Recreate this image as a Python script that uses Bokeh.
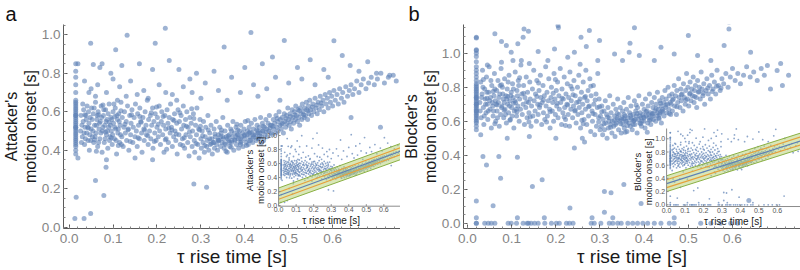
from bokeh.plotting import figure
from bokeh.layouts import row
from bokeh.models import FixedTicker, Range1d, PrintfTickFormatter, Title
from bokeh.embed import file_html
from bokeh.resources import INLINE
import math

FONT = "Liberation Sans"
BLUE = "#5E81B5"
ORANGE = "#E6A03A"
GREEN_LINE = "#8AB043"
GREEN_FILL = "#B9D47E"

# ---------------- data: panel a (Attacker) ----------------
a_col_x = 0.015
a_col_y = [0.38, 0.40, 0.42, 0.43, 0.44, 0.45, 0.46, 0.47, 0.48, 0.49, 0.50, 0.51, 0.52, 0.52,
           0.53, 0.54, 0.55, 0.56, 0.57, 0.58, 0.58, 0.59, 0.60, 0.61, 0.62, 0.63, 0.64, 0.65,
           0.66, 0.70, 0.74, 0.78, 0.81, 0.85]

a_left = [(0.030,0.47),(0.032,0.55),(0.033,0.61),(0.035,0.43),(0.036,0.52),(0.038,0.58),(0.040,0.49),
(0.041,0.63),(0.043,0.45),(0.045,0.54),(0.046,0.40),(0.048,0.57),(0.050,0.51),(0.051,0.62),(0.053,0.47),
(0.055,0.59),(0.056,0.44),(0.058,0.53),(0.060,0.65),(0.061,0.49),(0.063,0.56),(0.065,0.42),(0.066,0.60),
(0.068,0.51),(0.070,0.46),(0.071,0.55),(0.073,0.63),(0.075,0.39),(0.076,0.50),(0.078,0.58),(0.080,0.44),
(0.081,0.53),(0.083,0.61),(0.085,0.48),(0.086,0.56),(0.088,0.41),(0.090,0.52),(0.091,0.64),(0.093,0.47),
(0.095,0.57),(0.096,0.50),(0.098,0.43),(0.100,0.60),(0.101,0.54),(0.103,0.46),(0.105,0.62),(0.106,0.51),
(0.108,0.38),(0.110,0.56),(0.111,0.49),(0.113,0.59),(0.115,0.44),(0.116,0.53),(0.118,0.65),(0.120,0.47),
(0.121,0.57),(0.123,0.42),(0.125,0.52),(0.126,0.60),(0.128,0.49),(0.130,0.55),(0.131,0.45),(0.133,0.63),
(0.135,0.51),(0.136,0.40),(0.138,0.58),(0.140,0.48),(0.141,0.54),(0.143,0.61),(0.145,0.44),(0.146,0.52),
(0.148,0.57),(0.150,0.47),(0.151,0.64),(0.153,0.50),(0.155,0.42),(0.156,0.59),(0.158,0.53),(0.160,0.46),
(0.161,0.62),(0.163,0.55),(0.165,0.49),(0.166,0.39),(0.168,0.57),(0.170,0.51),(0.171,0.45),(0.173,0.60),
(0.175,0.53),(0.176,0.48),(0.178,0.66),(0.180,0.43),(0.181,0.56),(0.183,0.50),(0.185,0.58),(0.186,0.46),
(0.188,0.53),(0.190,0.62),(0.191,0.41),(0.193,0.55),(0.195,0.49),(0.196,0.59),(0.198,0.45),(0.200,0.52),
(0.201,0.57),(0.203,0.47),(0.205,0.63),(0.206,0.50),(0.208,0.43),(0.210,0.55),(0.211,0.60),(0.213,0.48),
(0.215,0.53),(0.216,0.39),(0.218,0.58),(0.220,0.51),(0.221,0.46),(0.223,0.61),(0.225,0.54),(0.226,0.44),
(0.228,0.57),(0.230,0.49),(0.231,0.64),(0.233,0.52),(0.235,0.42),(0.236,0.56),(0.238,0.47),(0.240,0.59),
(0.241,0.50),(0.243,0.45),(0.245,0.54),(0.246,0.38),(0.248,0.61),(0.250,0.48),(0.251,0.55),(0.253,0.43),
(0.255,0.58),(0.256,0.51),(0.258,0.46),(0.260,0.63),(0.261,0.53),(0.263,0.41),(0.265,0.56),(0.266,0.48),
(0.268,0.60),(0.270,0.44),(0.271,0.52),(0.273,0.37),(0.275,0.57),(0.276,0.47),(0.278,0.54),(0.280,0.42),
(0.281,0.50),(0.283,0.59),(0.285,0.45),(0.286,0.39),(0.288,0.53),(0.290,0.48),(0.291,0.62),(0.293,0.43),
(0.295,0.51),(0.296,0.36),(0.298,0.56),(0.300,0.46),
(0.026,0.50),(0.027,0.58),(0.028,0.44),(0.029,0.53),(0.031,0.64),(0.034,0.49),(0.037,0.46),(0.039,0.56),
(0.042,0.52),(0.044,0.60),(0.047,0.48),(0.049,0.45),(0.052,0.56),(0.054,0.50),(0.057,0.62),(0.059,0.47),
(0.062,0.53),(0.064,0.58),(0.067,0.44),(0.069,0.54),(0.072,0.49),(0.074,0.57),(0.077,0.52),(0.079,0.61),
(0.082,0.46),(0.084,0.55),(0.087,0.50),(0.089,0.59),(0.092,0.45),(0.094,0.53),(0.097,0.56),(0.099,0.48),
(0.102,0.64),(0.104,0.52),(0.107,0.45),(0.109,0.58),(0.112,0.51),(0.114,0.55),(0.117,0.48),(0.119,0.43)]

a_fill = [(0.044,0.515),(0.058,0.455),(0.067,0.585),(0.083,0.495),(0.091,0.545),(0.104,0.575),(0.112,0.425),
(0.127,0.535),(0.134,0.505),(0.142,0.585),(0.157,0.465),(0.164,0.545),(0.172,0.505),(0.187,0.595),(0.194,0.445),
(0.203,0.535),(0.214,0.575),(0.219,0.455),(0.227,0.515),(0.239,0.555),(0.244,0.485),(0.252,0.595),(0.259,0.425),
(0.267,0.525),(0.274,0.495),(0.284,0.565),(0.289,0.435),(0.297,0.505),(0.304,0.475),(0.309,0.425),(0.317,0.505),
(0.324,0.435),(0.332,0.485),(0.339,0.455),(0.347,0.505),(0.354,0.435),(0.362,0.475),(0.369,0.415),(0.377,0.455),
(0.384,0.505),(0.392,0.445),(0.399,0.475),(0.404,0.425),(0.412,0.495),(0.419,0.465),(0.427,0.505),(0.434,0.475),
(0.442,0.525),(0.449,0.495),(0.457,0.515),(0.036,0.585),(0.062,0.395),(0.077,0.635),(0.096,0.465),(0.118,0.605),
(0.139,0.445),(0.161,0.575),(0.179,0.475),(0.199,0.625),(0.222,0.405),(0.234,0.505),(0.262,0.465),(0.279,0.615),
(0.299,0.525),(0.357,0.395),(0.382,0.535),(0.407,0.555),(0.437,0.435),(0.464,0.525),(0.474,0.565),(0.484,0.535),
(0.494,0.565),(0.504,0.575),(0.514,0.585),(0.524,0.605),(0.534,0.585),(0.544,0.605),(0.554,0.625),(0.564,0.635),
(0.574,0.645)]

a_cluster = [(0.301,0.41),(0.303,0.50),(0.305,0.44),(0.306,0.55),(0.308,0.39),(0.310,0.47),(0.311,0.52),
(0.313,0.42),(0.315,0.45),(0.316,0.58),(0.318,0.40),(0.320,0.49),(0.321,0.43),(0.323,0.53),(0.325,0.46),
(0.326,0.38),(0.328,0.44),(0.330,0.51),(0.331,0.41),(0.333,0.47),(0.335,0.55),(0.336,0.43),(0.338,0.40),
(0.340,0.48),(0.341,0.45),(0.343,0.52),(0.345,0.42),(0.346,0.49),(0.348,0.44),(0.350,0.57),(0.351,0.46),
(0.353,0.41),(0.355,0.50),(0.356,0.43),(0.358,0.47),(0.360,0.39),(0.361,0.53),(0.363,0.45),(0.365,0.48),
(0.366,0.42),(0.368,0.51),(0.370,0.44),(0.371,0.47),(0.373,0.55),(0.375,0.40),(0.376,0.49),(0.378,0.45),
(0.380,0.52),(0.381,0.43),(0.383,0.48),(0.385,0.46),(0.386,0.41),(0.388,0.50),(0.390,0.44),(0.391,0.53),
(0.393,0.47),(0.395,0.49),(0.396,0.42),(0.398,0.51),(0.400,0.46),(0.401,0.55),(0.403,0.44),(0.405,0.48),
(0.406,0.50),(0.408,0.43),(0.410,0.52),(0.411,0.47),(0.413,0.45),(0.415,0.54),(0.416,0.49),(0.418,0.44),
(0.420,0.51),(0.421,0.47),(0.423,0.56),(0.425,0.48),(0.426,0.45),(0.428,0.53),(0.430,0.50),(0.431,0.46),
(0.433,0.52),(0.435,0.49),(0.436,0.57),(0.438,0.47),(0.440,0.54),(0.441,0.50),(0.443,0.45),(0.445,0.52),
(0.446,0.48),(0.448,0.56),(0.450,0.51),(0.451,0.47),(0.453,0.54),(0.455,0.50),(0.456,0.58),(0.458,0.53),
(0.460,0.49),
(0.320,0.46),(0.340,0.45),(0.350,0.47),(0.360,0.46),(0.370,0.45),(0.380,0.47),(0.390,0.46),(0.400,0.48),
(0.410,0.49),(0.420,0.48),(0.430,0.49),(0.440,0.50),(0.330,0.44),(0.370,0.50),(0.390,0.43),(0.410,0.45),
(0.430,0.46),(0.345,0.47),(0.365,0.44),(0.385,0.48)]

a_rise = [(0.461,0.53),(0.463,0.48),(0.465,0.56),(0.466,0.51),(0.468,0.54),(0.470,0.49),(0.471,0.58),
(0.473,0.52),(0.475,0.55),(0.476,0.50),(0.478,0.60),(0.480,0.53),(0.481,0.56),(0.483,0.51),(0.485,0.57),
(0.486,0.54),(0.488,0.49),(0.490,0.59),(0.491,0.55),(0.493,0.52),(0.495,0.58),(0.496,0.54),(0.498,0.62),
(0.500,0.56),(0.501,0.53),(0.503,0.59),(0.505,0.55),(0.506,0.51),(0.508,0.61),(0.510,0.57),(0.511,0.54),
(0.513,0.60),(0.515,0.56),(0.516,0.63),(0.518,0.58),(0.520,0.55),(0.521,0.61),(0.523,0.57),(0.525,0.53),
(0.526,0.62),(0.528,0.59),(0.530,0.56),(0.531,0.64),(0.533,0.60),(0.535,0.57),(0.536,0.62),(0.538,0.58),
(0.540,0.65),(0.541,0.61),(0.543,0.56),(0.545,0.63),(0.546,0.59),(0.548,0.66),(0.550,0.61),(0.552,0.58),
(0.555,0.64),(0.557,0.60),(0.560,0.67),(0.562,0.62),(0.565,0.59),(0.567,0.65),(0.570,0.61),(0.572,0.68),
(0.575,0.63),(0.578,0.66),(0.580,0.60),(0.583,0.69),(0.585,0.64),(0.588,0.67),(0.590,0.62),(0.593,0.70),
(0.595,0.65),(0.598,0.68),(0.600,0.63),(0.603,0.71),(0.606,0.66),(0.610,0.69),(0.613,0.64),(0.616,0.72),
(0.620,0.67),(0.623,0.70),(0.626,0.65),(0.630,0.73),(0.634,0.68),(0.638,0.71),(0.642,0.74),(0.646,0.69),
(0.650,0.72),(0.655,0.76),(0.660,0.70),(0.665,0.74),(0.670,0.77),(0.676,0.72),(0.682,0.75),(0.688,0.78),
(0.695,0.74),(0.702,0.77),(0.710,0.80),(0.718,0.75),(0.727,0.78),(0.738,0.79),(0.745,0.76),
(0.642,0.57),(0.709,0.52)]

a_high = [(0.219,1.034),(0.132,0.998),(0.414,1.012),(0.049,0.956),(0.196,0.956),(0.490,0.970),
(0.603,0.969),(0.106,0.922),(0.353,0.936),(0.228,0.866),(0.463,0.884),(0.549,0.870),(0.622,0.892),
(0.020,0.850),(0.055,0.845),(0.075,0.850),(0.070,0.830),(0.095,0.800),(0.120,0.840),(0.160,0.850),
(0.190,0.820),(0.250,0.820),(0.290,0.800),(0.330,0.810),(0.400,0.830),(0.440,0.850),(0.520,0.830),
(0.580,0.820),(0.660,0.810),(0.700,0.800),(0.730,0.790),(0.035,0.760),(0.050,0.720),(0.065,0.740),
(0.085,0.700),(0.100,0.770),(0.115,0.730),(0.140,0.760),(0.170,0.710),(0.205,0.740),(0.235,0.690),
(0.260,0.730),(0.280,0.700),(0.310,0.750),(0.340,0.710),(0.370,0.780),(0.390,0.700),(0.420,0.740),
(0.450,0.720),(0.470,0.780),(0.500,0.750),(0.530,0.770),(0.560,0.740),(0.590,0.780),(0.640,0.840),
(0.680,0.860),(0.060,0.680),(0.130,0.680),(0.180,0.670),(0.220,0.700),(0.300,0.670),(0.360,0.660),
(0.430,0.680),(0.480,0.660),(0.155,0.690),(0.275,0.770),(0.045,0.700),(0.110,0.660),(0.245,0.660)]

a_low = [(0.013,0.045),(0.016,0.156),(0.034,0.045),(0.049,0.071),(0.060,0.243),(0.079,0.165),
(0.084,0.312),(0.284,0.225),(0.313,0.208),(0.020,0.360),(0.085,0.350),(0.190,0.350),(0.150,0.360)]

# inset a regression lines (end points read at x = 0 and x = 0.70)
a_fit_x = [0.0, 0.70]
a_fit_y = [0.14, 0.78]
a_orange_lo = [0.09, 0.73]
a_orange_hi = [0.19, 0.83]
a_green_lo = [0.03, 0.66]
a_green_hi = [0.25, 0.89]

# ---------------- data: panel b (Blocker) ----------------
b_col_x = 0.02
b_col_y = [0.55, 0.57, 0.59, 0.60, 0.61, 0.62, 0.63, 0.64, 0.65, 0.66, 0.67, 0.68, 0.69, 0.70, 0.71,
           0.72, 0.73, 0.74, 0.75, 0.76, 0.77, 0.78, 0.79, 0.80, 0.81, 0.82, 0.84, 0.86, 0.88, 0.90,
           0.92, 0.95, 0.98, 1.00, 1.02, 1.09, 0.70, 0.74, 0.66]

b_left = [(0.028,0.71),(0.030,0.83),(0.031,0.62),(0.033,0.76),(0.034,0.90),(0.036,0.68),(0.037,0.58),
(0.039,0.79),(0.040,0.73),(0.042,0.65),(0.043,0.86),(0.045,0.70),(0.046,0.61),(0.048,0.77),(0.049,0.92),
(0.051,0.67),(0.052,0.74),(0.054,0.56),(0.055,0.81),(0.057,0.69),(0.058,0.63),(0.060,0.75),(0.061,0.88),
(0.063,0.72),(0.064,0.60),(0.066,0.78),(0.067,0.66),(0.069,0.84),(0.070,0.71),(0.072,0.57),(0.073,0.76),
(0.075,0.64),(0.076,0.91),(0.078,0.69),(0.079,0.80),(0.081,0.73),(0.082,0.62),(0.084,0.85),(0.085,0.67),
(0.087,0.75),(0.088,0.59),(0.090,0.79),(0.091,0.70),(0.093,0.65),(0.094,0.87),(0.096,0.72),(0.097,0.61),
(0.099,0.77),(0.100,0.68),(0.102,0.82),(0.103,0.74),(0.105,0.56),(0.106,0.66),(0.108,0.89),(0.109,0.71),
(0.111,0.63),(0.112,0.78),(0.114,0.69),(0.115,0.84),(0.117,0.60),(0.118,0.73),(0.120,0.67),(0.121,0.93),
(0.123,0.76),(0.124,0.64),(0.126,0.70),(0.127,0.81),(0.129,0.58),(0.130,0.74),(0.132,0.68),(0.133,0.86),
(0.135,0.62),(0.136,0.77),(0.138,0.71),(0.139,0.65),(0.141,0.83),(0.142,0.73),(0.144,0.57),(0.145,0.69),
(0.147,0.79),(0.148,0.63),(0.150,0.90),(0.151,0.72),(0.153,0.66),(0.154,0.76),(0.156,0.60),(0.157,0.84),
(0.159,0.70),(0.160,0.64),(0.162,0.78),(0.163,0.68),(0.165,0.87),(0.166,0.74),(0.168,0.58),(0.169,0.71),
(0.171,0.81),(0.172,0.65),(0.174,0.75),(0.175,0.61),(0.177,0.92),(0.178,0.69),(0.180,0.77),(0.181,0.63),
(0.183,0.72),(0.184,0.85),(0.186,0.67),(0.187,0.56),(0.189,0.74),(0.190,0.80),(0.192,0.66),(0.193,0.71),
(0.195,0.60),(0.196,0.88),(0.198,0.73),(0.199,0.64),(0.201,0.78),(0.202,0.69),(0.204,0.83),(0.205,0.62),
(0.207,0.75),(0.208,0.67),(0.210,0.91),(0.211,0.71),(0.213,0.58),(0.214,0.79),(0.216,0.65),(0.217,0.73),
(0.219,0.86),(0.220,0.68),(0.222,0.61),(0.223,0.76),(0.225,0.70),(0.226,0.82),(0.228,0.64),(0.229,0.74),
(0.231,0.57),(0.232,0.89),(0.234,0.67),(0.235,0.72),(0.237,0.79),(0.238,0.62),(0.240,0.69),(0.241,0.84),
(0.243,0.66),(0.244,0.75),(0.246,0.59),(0.247,0.71),(0.249,0.80),(0.250,0.64),(0.252,0.87),(0.253,0.68),
(0.255,0.73),(0.256,0.56),(0.258,0.77),(0.259,0.65),(0.261,0.70),(0.262,0.83),(0.264,0.61),(0.265,0.74),
(0.267,0.67),(0.268,0.90),(0.270,0.58),(0.271,0.72),(0.273,0.78),(0.274,0.63),(0.276,0.69),(0.277,0.85),
(0.279,0.54),(0.280,0.75),(0.282,0.66),(0.283,0.60),(0.285,0.81),(0.286,0.70),(0.288,0.52),(0.289,0.64),
(0.291,0.76),(0.292,0.57),(0.294,0.68),(0.295,0.88),(0.297,0.62),(0.298,0.73),(0.300,0.55),
(0.029,0.66),(0.032,0.74),(0.035,0.80),(0.038,0.63),(0.041,0.70),(0.044,0.77),(0.047,0.66),(0.050,0.72),
(0.053,0.84),(0.056,0.71),(0.059,0.66),(0.062,0.79),(0.065,0.70),(0.068,0.62),(0.071,0.74),(0.074,0.81),
(0.077,0.68),(0.080,0.76),(0.083,0.71),(0.086,0.64),(0.089,0.73),(0.092,0.83),(0.095,0.69),(0.098,0.75),
(0.101,0.63),(0.104,0.79),(0.107,0.72),(0.110,0.67),(0.113,0.75),(0.116,0.81)]

b_fill = [(0.044,0.735),(0.058,0.775),(0.067,0.695),(0.083,0.665),(0.091,0.745),(0.104,0.705),(0.112,0.655),
(0.127,0.765),(0.134,0.715),(0.142,0.625),(0.157,0.745),(0.164,0.695),(0.172,0.725),(0.187,0.655),(0.194,0.765),
(0.203,0.705),(0.214,0.735),(0.219,0.625),(0.227,0.695),(0.239,0.755),(0.244,0.665),(0.252,0.715),(0.259,0.605),
(0.267,0.745),(0.274,0.685),(0.284,0.645),(0.289,0.725),(0.297,0.595),(0.304,0.655),(0.309,0.585),(0.317,0.625),
(0.324,0.565),(0.332,0.605),(0.339,0.645),(0.347,0.585),(0.354,0.615),(0.362,0.575),(0.369,0.635),(0.377,0.605),
(0.384,0.645),(0.392,0.585),(0.399,0.625),(0.404,0.655),(0.412,0.605),(0.419,0.645),(0.427,0.675),(0.434,0.615),
(0.442,0.655),(0.449,0.695),(0.457,0.645),(0.036,0.845),(0.062,0.585),(0.077,0.815),(0.096,0.605),(0.118,0.855),
(0.139,0.595),(0.161,0.825),(0.179,0.595),(0.199,0.845),(0.222,0.575),(0.234,0.805),(0.262,0.585),(0.279,0.805),
(0.299,0.685),(0.357,0.535),(0.382,0.695),(0.407,0.535),(0.437,0.705),(0.464,0.725),(0.474,0.685),(0.484,0.755),
(0.494,0.725),(0.504,0.765),(0.514,0.745),(0.524,0.775),(0.534,0.765),(0.544,0.795),(0.554,0.775),(0.564,0.805),
(0.574,0.795)]

b_cluster = [(0.301,0.63),(0.303,0.57),(0.304,0.69),(0.306,0.52),(0.307,0.61),(0.309,0.66),(0.310,0.55),
(0.312,0.72),(0.313,0.59),(0.315,0.64),(0.316,0.50),(0.318,0.68),(0.319,0.56),(0.321,0.62),(0.322,0.75),
(0.324,0.58),(0.325,0.65),(0.327,0.53),(0.328,0.60),(0.330,0.70),(0.331,0.57),(0.333,0.63),(0.334,0.51),
(0.336,0.67),(0.337,0.59),(0.339,0.62),(0.340,0.73),(0.342,0.55),(0.343,0.64),(0.345,0.60),(0.346,0.68),
(0.348,0.53),(0.349,0.61),(0.351,0.66),(0.352,0.58),(0.354,0.71),(0.355,0.56),(0.357,0.63),(0.358,0.60),
(0.360,0.67),(0.361,0.54),(0.363,0.62),(0.364,0.74),(0.366,0.59),(0.367,0.65),(0.369,0.57),(0.370,0.69),
(0.372,0.61),(0.373,0.55),(0.375,0.64),(0.376,0.60),(0.378,0.72),(0.379,0.58),(0.381,0.66),(0.382,0.63),
(0.384,0.53),(0.385,0.68),(0.387,0.61),(0.388,0.75),(0.390,0.59),(0.391,0.65),(0.393,0.62),(0.394,0.57),
(0.396,0.70),(0.397,0.64),(0.399,0.60),(0.400,0.67),(0.402,0.56),(0.403,0.73),(0.405,0.63),(0.406,0.66),
(0.408,0.59),(0.409,0.69),(0.411,0.62),(0.412,0.76),(0.414,0.65),(0.415,0.58),(0.417,0.71),(0.418,0.64),
(0.420,0.68),(0.421,0.61),(0.423,0.74),(0.424,0.66),(0.426,0.60),(0.427,0.70),(0.429,0.63),(0.430,0.77),
(0.432,0.67),(0.433,0.62),(0.435,0.72),(0.436,0.65),(0.438,0.69),(0.439,0.59),(0.441,0.74),(0.442,0.67),
(0.444,0.71),(0.445,0.63),(0.447,0.78),(0.448,0.68),(0.450,0.73),(0.451,0.65),(0.453,0.70),(0.454,0.80),
(0.456,0.67),(0.457,0.75),(0.459,0.71),(0.460,0.64),
(0.320,0.60),(0.340,0.61),(0.350,0.62),(0.360,0.60),(0.370,0.62),(0.380,0.61),(0.390,0.63),(0.400,0.62),
(0.410,0.64),(0.420,0.63),(0.430,0.65),(0.440,0.66),(0.335,0.58),(0.355,0.64),(0.375,0.58),(0.395,0.60),
(0.415,0.61),(0.435,0.64)]

b_rise = [(0.461,0.70),(0.463,0.76),(0.464,0.66),(0.466,0.73),(0.468,0.81),(0.469,0.69),(0.471,0.75),
(0.473,0.64),(0.474,0.78),(0.476,0.71),(0.478,0.85),(0.479,0.74),(0.481,0.68),(0.483,0.79),(0.484,0.72),
(0.486,0.76),(0.488,0.66),(0.489,0.82),(0.491,0.74),(0.493,0.70),(0.494,0.78),(0.496,0.88),(0.498,0.73),
(0.499,0.80),(0.501,0.69),(0.503,0.76),(0.504,0.83),(0.506,0.72),(0.508,0.79),(0.509,0.75),(0.511,0.86),
(0.513,0.71),(0.514,0.78),(0.516,0.81),(0.518,0.74),(0.519,0.68),(0.521,0.84),(0.523,0.77),(0.525,0.80),
(0.527,0.73),(0.529,0.89),(0.531,0.79),(0.533,0.75),(0.535,0.82),(0.537,0.70),(0.540,0.78),(0.542,0.85),
(0.545,0.76),(0.548,0.81),(0.550,0.73),(0.553,0.87),(0.556,0.79),(0.559,0.83),(0.562,0.76),(0.565,0.90),
(0.568,0.81),(0.572,0.78),(0.576,0.85),(0.580,0.82),(0.585,0.88),(0.590,0.80),(0.595,0.86),(0.600,0.91),
(0.606,0.84),(0.612,0.88),(0.618,0.82),(0.625,0.87),(0.632,0.92),(0.640,0.86),(0.648,0.89),(0.656,0.84),
(0.665,0.91),(0.672,0.87),(0.713,0.81),(0.686,0.79),(0.727,0.87),(0.709,0.94)]

b_high = [(0.058,1.192),(0.062,1.114),(0.020,1.094),(0.077,1.069),(0.126,1.094),(0.128,1.143),
(0.138,1.129),(0.205,1.163),(0.206,1.149),(0.257,1.094),(0.299,1.075),(0.378,1.149),(0.088,1.045),
(0.114,1.055),(0.020,1.016),(0.099,1.006),(0.160,1.010),(0.197,1.025),(0.242,1.006),(0.269,1.039),
(0.333,0.996),(0.351,0.957),(0.366,1.006),(0.103,0.957),(0.122,0.957),(0.077,0.947),(0.182,0.957),
(0.227,0.976),(0.295,0.957),(0.276,1.133),(0.368,1.059),(0.438,1.035),(0.500,1.104),(0.521,0.986),
(0.592,1.182),(0.592,1.143),(0.581,1.045),(0.641,1.006),(0.551,0.957),(0.468,0.996),(0.423,0.957),
(0.679,0.928),(0.701,0.898),(0.389,0.986),(0.045,0.930),(0.140,0.940),(0.255,0.935)]

b_low = [(0.035,0.392),(0.043,0.343),(0.071,0.392),(0.075,0.265),(0.113,0.388),(0.147,0.216),
(0.169,0.255),(0.232,0.090),(0.242,0.443),(0.265,0.477),(0.310,0.186),(0.325,0.179),(0.310,0.065),
(0.354,0.228),(0.020,0.130),(0.020,0.032),(0.058,0.102),(0.113,0.032),(0.174,0.032),(0.282,0.032),
(0.329,0.032),(0.393,0.116),(0.468,0.032),(0.637,0.133),(0.030,0.520),(0.090,0.500),(0.140,0.510),
(0.200,0.500),(0.260,0.500)]

b_zero_x = [0.020, 0.020, 0.039, 0.047, 0.054, 0.062, 0.092, 0.099, 0.111, 0.126, 0.135, 0.138, 0.144,
            0.152, 0.160, 0.175, 0.190, 0.201, 0.208, 0.224, 0.231, 0.239, 0.280, 0.287, 0.302, 0.321,
            0.329, 0.340, 0.348, 0.363, 0.374, 0.385, 0.397, 0.408, 0.423, 0.438, 0.457, 0.468, 0.528,
            0.551, 0.573, 0.596, 0.612]
b_zero_y = 0.0

# inset b regression lines (end points read at x = 0 and x = 0.73)
b_fit_x = [0.0, 0.73]
b_fit_y = [0.32, 0.97]
b_orange_lo = [0.26, 0.91]
b_orange_hi = [0.38, 1.03]
b_green_lo = [0.20, 0.85]
b_green_hi = [0.44, 1.09]

# tick labels
main_x_ticks = [0.0, 0.1, 0.2, 0.3, 0.4, 0.5, 0.6]
main_y_ticks = [0.0, 0.2, 0.4, 0.6, 0.8, 1.0]
x_tick_labels = ["0.0", "0.1", "0.2", "0.3", "0.4", "0.5", "0.6"]
y_tick_labels = ["0.0", "0.2", "0.4", "0.6", "0.8", "1.0"]
minor_x = [round(i * 0.02, 2) for i in range(-1, 39)]
minor_y = [round(i * 0.05, 2) for i in range(-1, 25)]


def collect(col_x, col_y, groups, zero_x=None, zero_y=None):
    xs = [col_x] * len(col_y)
    ys = list(col_y)
    for g in groups:
        xs += [p[0] for p in g]
        ys += [p[1] for p in g]
    if zero_x is not None:
        xs += list(zero_x)
        ys += [zero_y] * len(zero_x)
    return xs, ys


a_x, a_y = collect(a_col_x, a_col_y, [a_left, a_fill, a_cluster, a_rise, a_high, a_low])
b_x, b_y = collect(b_col_x, b_col_y, [b_left, b_fill, b_cluster, b_rise, b_high, b_low], b_zero_x, b_zero_y)

W, H = 400, 270


def span(px_lo, px_hi, px0, scale):
    # data values at two pixel positions, for an axis where value 0 sits at px0
    return (px_lo - px0) / scale, (px_hi - px0) / scale


def build(xs, ys, L, T, letter_offset, X0, XS, Y0, YS, name1, I, fit):
    # L: frame left (px), T: frame top (px); frame right = W, frame bottom = 228
    B, R = 228, W
    xr = span(L, R, X0, XS)
    yr = (-(B - Y0) / YS, (Y0 - T) / YS)
    p = figure(width=W, height=H, x_range=Range1d(*xr), y_range=Range1d(*yr),
               output_backend="svg", toolbar_location=None,
               min_border_left=L, min_border_right=0, min_border_top=T, min_border_bottom=H - B)
    p.grid.visible = False
    p.outline_line_color = None
    p.background_fill_color = "white"
    p.border_fill_color = "white"
    p.xaxis.ticker = FixedTicker(ticks=main_x_ticks, minor_ticks=minor_x)
    p.yaxis.ticker = FixedTicker(ticks=main_y_ticks, minor_ticks=minor_y)
    for ax in (p.xaxis[0], p.yaxis[0]):
        ax.axis_line_color = "#5a5a5a"
        ax.major_tick_line_color = "#5a5a5a"
        ax.minor_tick_line_color = "#8a8a8a"
        ax.major_tick_in = 4
        ax.major_tick_out = 0
        ax.minor_tick_in = 2
        ax.minor_tick_out = 0
        ax.major_label_text_font = FONT
        ax.major_label_text_font_size = "13.5px"
        ax.major_label_text_color = "#858585"
        ax.formatter = PrintfTickFormatter(format="%.1f")
        ax.axis_label_text_font = FONT
        ax.axis_label_text_font_style = "normal"
        ax.axis_label_text_color = "#1a1a1a"
    p.yaxis.major_label_standoff = 3
    p.xaxis.major_label_standoff = 5
    p.xaxis.axis_label = "τ rise time [s]"
    p.xaxis.axis_label_text_font_size = "19px"
    p.xaxis.axis_label_standoff = 0
    p.yaxis.axis_label = None
    for txt in ("motion onset [s]", name1):
        p.add_layout(Title(text=txt, align="center", text_font=FONT, text_font_size="16px",
                           text_font_style="normal", text_color="#1a1a1a", standoff=0), "left")
    p.title.text = letter_offset[0]
    p.title.text_font = FONT
    p.title.text_font_size = "20px"
    p.title.text_font_style = "normal"
    p.title.text_color = "#111111"
    p.title.align = "left"
    p.title.offset = letter_offset[1]
    p.title.standoff = 0

    p.scatter(xs, ys, size=5, fill_color=BLUE, fill_alpha=0.6, line_color=None)

    # ----- inset, drawn through its own ranges -----
    ix0, ixs, iy0, iys, ixmax, iymin, iymax, xlab_c = I
    p.extra_x_ranges = {"inset": Range1d(*span(L, R, ix0, ixs))}
    p.extra_y_ranges = {"inset": Range1d(-(B - iy0) / iys, (iy0 - T) / iys)}
    kw = dict(x_range_name="inset", y_range_name="inset")
    sel = [(x, y) for x, y in zip(xs, ys) if 0 <= x <= ixmax and iymin <= y <= iymax]
    p.scatter([s[0] for s in sel], [s[1] for s in sel], size=1.8, fill_color=BLUE,
              fill_alpha=0.7, line_color=None, **kw)
    fx, fy, olo, ohi, glo, ghi = fit
    p.varea(x=fx, y1=glo, y2=ghi, fill_color=GREEN_FILL, fill_alpha=0.55, **kw)
    p.line(fx, glo, line_color=GREEN_LINE, line_width=1, **kw)
    p.line(fx, ghi, line_color=GREEN_LINE, line_width=1, **kw)
    p.line(fx, olo, line_color=ORANGE, line_width=1.2, **kw)
    p.line(fx, ohi, line_color=ORANGE, line_width=1.2, **kw)
    p.line(fx, fy, line_color=BLUE, line_width=1.2, **kw)
    # inset axes
    ax_col = "#8c8c8c"
    p.line([0, 0], [iymin, iymax], line_color=ax_col, line_width=1, **kw)
    p.line([0, ixmax], [iymin, iymin], line_color=ax_col, line_width=1, **kw)
    tick_dx = 2.0 / ixs
    tick_dy = 2.0 / iys
    p.segment(x0=main_x_ticks, y0=[iymin] * 7, x1=main_x_ticks, y1=[iymin + tick_dy] * 7,
              line_color=ax_col, line_width=1, **kw)
    p.segment(x0=[0] * 6, y0=main_y_ticks, x1=[tick_dx] * 6, y1=main_y_ticks,
              line_color=ax_col, line_width=1, **kw)
    p.text(x=main_x_ticks, y=[iymin] * 7, text=x_tick_labels, y_offset=1,
           text_align="center", text_baseline="top", text_font_size="7px",
           text_color="#555555", text_font={"value": FONT}, **kw)
    p.text(x=[0] * 6, y=main_y_ticks, text=y_tick_labels, x_offset=-1.5,
           text_align="right", text_baseline="middle", text_font_size="7px",
           text_color="#555555", text_font={"value": FONT}, **kw)
    p.text(x=[xlab_c], y=[iymin], text=["τ rise time [s]"], y_offset=9,
           text_align="center", text_baseline="top", text_font_size="10px",
           text_color="#1a1a1a", text_font={"value": FONT}, **kw)
    p.text(x=[0, 0], y=[0.5, 0.5], text=[name1, "motion onset [s]"], x_offset=[-29, -18],
           angle=math.pi / 2, text_align="center", text_baseline="middle",
           text_font_size="9.5px", text_color="#1a1a1a", text_font={"value": FONT}, **kw)
    return p


pa = build(a_x, a_y, 60, 24, ("a", -58), 65.7, 443.0, 226.7, 192.4, "Attacker's",
           (277.0, 177.0, 205.0, 70.0, 0.695, -0.01, 1.075, 0.30),
           (a_fit_x, a_fit_y, a_orange_lo, a_orange_hi, a_green_lo, a_green_hi))
pb = build(b_x, b_y, 62, 24, ("b", -55), 66.0, 443.0, 222.7, 170.0, "Blocker's",
           (265.7, 185.0, 204.3, 66.0, 0.724, -0.026, 1.156, 0.36),
           (b_fit_x, b_fit_y, b_orange_lo, b_orange_hi, b_green_lo, b_green_hi))

layout = row(pa, pb)
open("out.html", "w").write(file_html(layout, INLINE))
